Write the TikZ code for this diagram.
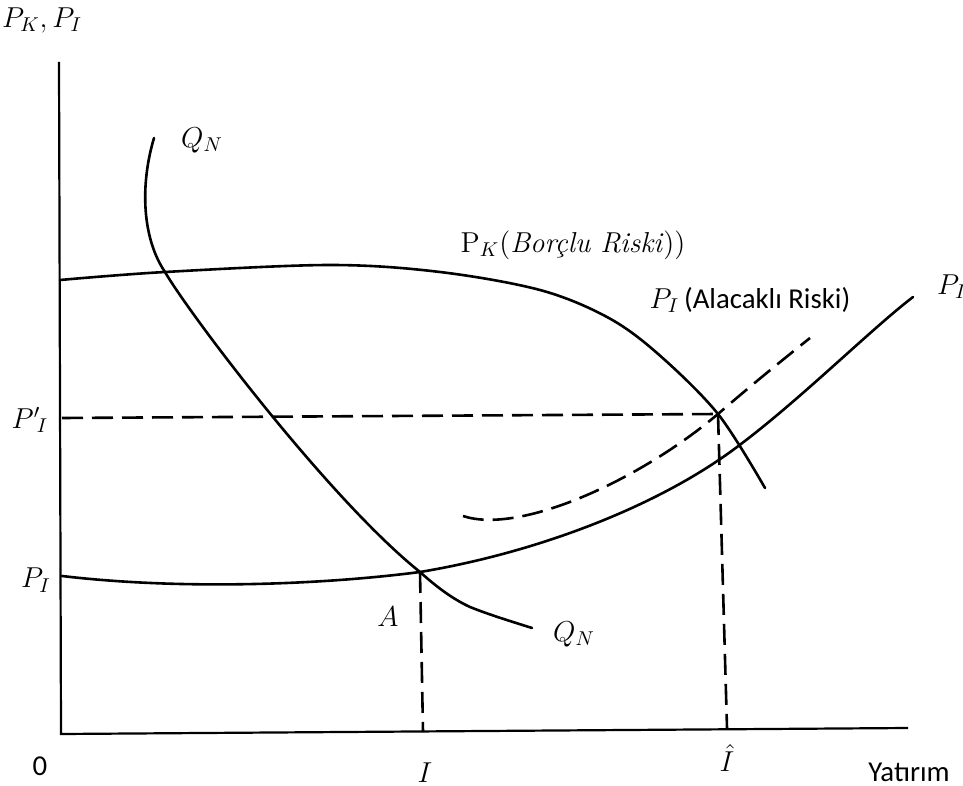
\documentclass[tikz,border=0pt]{standalone}
\usepackage{fontspec}
\newfontfamily\calib{Carlito}
\begin{document}
\begin{tikzpicture}[x=0.5pt,y=-0.5pt,
  axis/.style={line width=1.1pt},
  curve/.style={line width=1.3pt, line cap=round},
  dline/.style={line width=1.3pt, dash pattern=on 10.5pt off 4.5pt},
  lbl/.style={inner sep=0pt, font=\Large}]
\useasboundingbox (0,0) rectangle (963,786);
% points
\coordinate (O) at (61,734);
\coordinate (ytop) at (59,62);
\coordinate (xend) at (908,728);
\coordinate (A) at (420,572);
\coordinate (B) at (718,414);
\coordinate (Ib) at (423,732);
\coordinate (Ihb) at (727,728);
\coordinate (Pp) at (62,418);
\coordinate (Q1) at (165,272);
% axes
\draw[axis] (ytop) -- (O) -- (xend);
% Q_N curve
\draw[curve] (154,138) .. controls (140,185) and (142,238) .. (Q1)
  .. controls (190,315) and (330,500) .. (A)
  .. controls (440,590) and (455,600) .. (470,607)
  .. controls (490,615) and (510,621) .. (532,628);
% P_K curve
\draw[curve] plot[smooth, tension=0.55] coordinates {(60,280) (Q1) (330,265) (440,272) (540,290) (607,317) (657,353) (B) (765,488)};
% P_I solid curve
\draw[curve] (62,576) .. controls (180,590) and (320,585) .. (A)
  .. controls (540,552) and (660,505) .. (737,447)
  .. controls (800,400) and (870,330) .. (913,297);
% P_I dashed curve
\draw[dline] (463,516) .. controls (520,535) and (640,480) .. (B)
  .. controls (755,382) and (785,358) .. (810,338);
% dashed guides
\draw[dline] (Pp) -- (B);
\draw[dline] (A) -- (Ib);
\draw[dline] (B) -- (Ihb);
% labels
\node[lbl] (yl) at (42,20) {$P_K,P_I$};
\node[lbl] (q1) at (202,140) {$Q_N$};
\node[lbl] (pk) at (573,245) {$\mathrm{P}_K($\textit{Borçlu Riski}$))$};
\node[lbl] (pa) at (750,300) {$P_I$\,{\calib (Alacaklı Riski)}};
\node[lbl] (pr) at (952,287) {$P_I$};
\node[lbl] (ppl) at (30,420) {${P'}_{\!I}$};
\node[lbl] (pil) at (36,580) {$P_I$};
\node[lbl] (al) at (388,617) {$A$};
\node[lbl] (q2) at (574,634) {$Q_N$};
\node[lbl] (il) at (425,773) {$I$};
\node[lbl] (ihl) at (727,758) {$\hat{I}$};
\node[lbl, font=\Large\calib] (yt) at (909,772) {Yatırım};
\node[lbl, font=\Large\calib] (zero) at (40,766) {0};
\end{tikzpicture}
\end{document}
